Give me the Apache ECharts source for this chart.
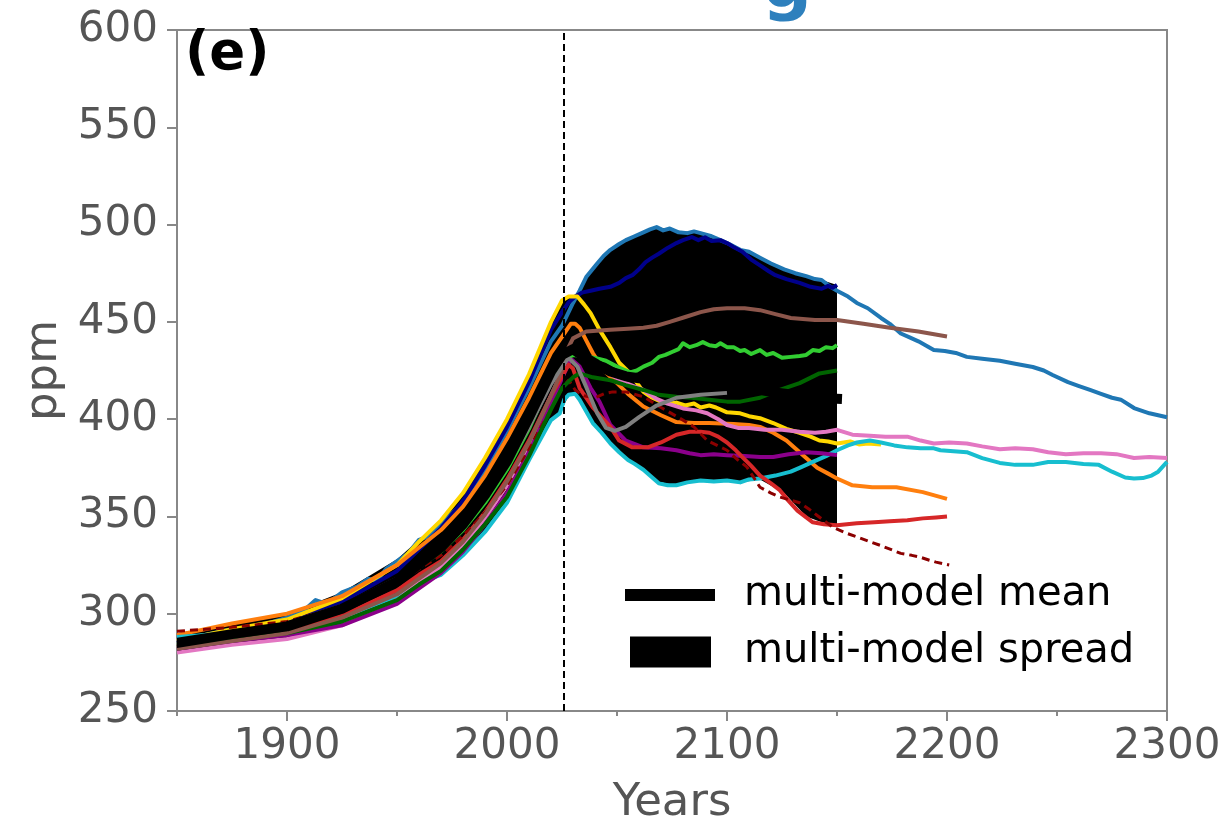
<!DOCTYPE html>
<html>
<head>
<meta charset="utf-8">
<script src="https://cdn.jsdelivr.net/npm/echarts@6/dist/echarts.min.js"></script>
<style>
html,body{margin:0;padding:0;background:#fff;}
#chart{width:1229px;height:823px;}
</style>
</head>
<body>
<div id="chart"></div>
<script>
// ---- tick labels ----
const xLabelYears = [1900, 2000, 2100, 2200, 2300];
const xMinorYears = [1850, 1950, 2050, 2150, 2250];
const refYear = 2026;

// ---- multi-model spread (envelope) ----
const spreadYears = [1850,1875,1900,1925,1950,1960,1970,1980,1990,2000,2010,2020,2025,2028,2031,2033,2036,2039,2042,2047,2054,2062,2068,2077,2088,2097,2106,2115,2126,2136,2143,2150];
const spreadHigh  = [290,295,300,311,328,338,348,362,380,400,423,450,461,463,463,466,473,478,482,487,492,496,498.7,497,495.6,492,487,483,477,473.5,471.5,469];
const spreadLow   = [280,284,287,294,305,313,320,330,342,357,379,399,405,412,413,410,404,398,394,387.7,380,374,368,366,368.5,368.5,367.5,369,362,350,347,346];

// ---- multi-model mean ----
const meanYears  = [1850,1875,1900,1925,1950,1960,1970,1980,1990,2000,2010,2020,2025,2030,2035,2041,2047,2054,2060,2070,2080,2090,2100,2110,2120,2130,2140,2150];
const meanValues = [285,289.5,293.5,302.5,316.5,325.5,334,346,361,378.5,401,424.5,433,436,432,428,424.5,422,421,420.5,420,419,418,416,414,412.5,411,410.5];

// ---- individual models: [year, ppm] ----
const blueRun = [[1850,287],[1862,289],[1875,292],[1888,294],[1900,298],[1907,301],[1913,307],[1918,305],[1925,311],[1932,314],[1937,318],[1941,317],[1945,323],[1950,327],[1955,331],[1960,338],[1965,340],[1970,346],[1980,357],[1990,374],[2000,394],[2010,416],[2020,440],[2025,448],[2028,455],[2030,459.7],[2033,466],[2036,473],[2041,480],[2044,484],[2047,487],[2051,490],[2054,492],[2058,494],[2062,496],[2065,497.5],[2068,498.7],[2071,497],[2074,498],[2078,496],[2082,495.6],[2085,496.5],[2088,495.6],[2093,494],[2097,492],[2101,490],[2106,487],[2110,486],[2115,483],[2120,480],[2126,477],[2131,475],[2136,473.5],[2140,472],[2143,471.5],[2147,468],[2150,466],[2155,463],[2159,459.7],[2164,457],[2170,452],[2174,449],[2179,444],[2183,442],[2187,440],[2191,437.5],[2194,435.5],[2199,435],[2204,434],[2209,432],[2216,431],[2224,430],[2231,428.5],[2239,426.8],[2244,425],[2248,422.7],[2255,419],[2260,417],[2265,415],[2270,413],[2275,411],[2279,410],[2285,405.7],[2292,403],[2296,402],[2300,401]];
const navyRun = [[1850,285],[1875,290],[1900,296],[1925,306],[1950,322],[1960,333],[1970,344],[1980,358],[1990,376],[2000,396],[2010,419],[2020,446],[2025,455],[2028,460],[2031,463],[2034,465],[2038,466],[2042,467],[2047,468],[2051,470],[2054,472.5],[2057,474],[2060,477],[2063,480.7],[2066,483],[2069,485],[2073,488],[2077,490.5],[2080,492],[2084,493.6],[2087,492],[2090,493.5],[2093,491.5],[2097,492],[2100,490.5],[2103,488.5],[2107,486],[2111,482],[2115,479],[2119,476],[2122,474],[2127,472],[2133,470],[2138,468],[2143,467],[2146,468.5],[2148,467.5],[2150,469]];
const goldRun = [[1850,286],[1875,292],[1900,297],[1925,308],[1950,325],[1960,337],[1970,348],[1980,362],[1990,380],[2000,400],[2010,423],[2020,450],[2025,461],[2028,463],[2032,463],[2035,459],[2038,454.5],[2042,446],[2047,437],[2051,429],[2056,423.5],[2062,414],[2066,411],[2070,409],[2074,408],[2077,408.5],[2081,407],[2085,408],[2088,406],[2092,407],[2095,406],[2100,403.5],[2106,403],[2110,401.5],[2115,400.5],[2121,398],[2127,395],[2133,393],[2138,391],[2142,389],[2146,388.5],[2150,387.5],[2156,388.5],[2160,387],[2164,387.5],[2170,387]];
const orangeRun = [[1850,289],[1875,295],[1900,300],[1925,309],[1950,325],[1960,334],[1970,343],[1980,355],[1990,371],[2000,390],[2010,411],[2020,434],[2026,444],[2029,449],[2031,449],[2033,447],[2036,440.5],[2039,434],[2044,425],[2050,418.5],[2055,413],[2062,406.5],[2070,402],[2077,398.5],[2085,398],[2092,398],[2103,397.5],[2110,397],[2115,396],[2121,393],[2127,389],[2132,384],[2137,379],[2141,375],[2146,372],[2150,369.5],[2157,366],[2166,365],[2177,365],[2189,362.5],[2200,359]];
const brownRun = [[1850,282],[1875,286],[1900,290],[1925,298],[1950,310],[1960,318],[1970,326],[1980,337],[1990,351],[2000,368],[2010,388],[2020,412],[2025,425],[2028,437],[2030,441.5],[2036,445],[2047,446],[2055,446.5],[2062,447],[2068,448],[2074,450],[2081,452.5],[2088,455],[2094,456.5],[2100,457],[2108,457],[2115,456],[2122,454],[2129,452],[2140,451],[2150,451],[2162,449],[2174,447],[2187,445],[2200,442.5]];
const limeRun = [[1850,284],[1875,288],[1900,293],[1925,302],[1950,316],[1960,324],[1970,332],[1980,343],[1990,357],[2000,374],[2010,395],[2020,420],[2025,430],[2030,433],[2035,432.5],[2040,431.5],[2045,430],[2050,427],[2053,425.5],[2056,424],[2059,425],[2062,427],[2066,429],[2069,432],[2072,433],[2075,434.5],[2078,436],[2080,439],[2083,437],[2086,438],[2089,439.6],[2092,438],[2095,437.5],[2097,439],[2100,437],[2103,437],[2106,435],[2108,435.5],[2111,433.5],[2115,435.5],[2118,433],[2121,434],[2125,431.5],[2129,432],[2133,432.5],[2136,433],[2139,435.5],[2142,435],[2145,437],[2148,436.5],[2150,438]];
const dgreenRun = [[1850,283],[1875,287],[1900,290],[1925,296],[1950,307],[1960,315],[1970,322],[1980,333],[1990,346],[2000,360],[2010,381],[2020,405],[2025,416],[2030,421.5],[2033,423.5],[2039,421.5],[2047,420],[2054,417.5],[2062,415],[2069,412.5],[2077,411.5],[2084,411],[2092,410],[2100,409],[2106,409],[2115,411],[2124,415],[2133,418.5],[2142,423.5],[2150,425]];
const grayRun = [[1850,284],[1875,289],[1900,295],[1925,304],[1950,318],[1960,326],[1970,334],[1980,345],[1990,359],[2000,376],[2010,396],[2020,418],[2025,427],[2028,431.5],[2032,427],[2036,416.5],[2041,403],[2045,395.5],[2049,394],[2054,396],[2060,401],[2068,407],[2077,411],[2088,412.5],[2100,413.5]];
const pinkRun = [[1850,280],[1875,284],[1900,287],[1925,294],[1950,307],[1960,316],[1970,324],[1980,335],[1990,349],[2000,366],[2010,387],[2020,412],[2025,424],[2027,430],[2030,434],[2033,432],[2036,430],[2041,427],[2047,423],[2054,418.5],[2062,415],[2068,410.5],[2073,408],[2080,405.5],[2086,404.5],[2091,403],[2096,400],[2100,397],[2105,395.5],[2110,395.5],[2117,394.5],[2125,394.5],[2133,393.5],[2140,393],[2145,393.5],[2150,394.5],[2157,392],[2165,391.5],[2172,391],[2182,391],[2188,389],[2194,387.5],[2201,388],[2209,387.5],[2216,386],[2224,384.5],[2231,385],[2239,384.5],[2246,383],[2254,382],[2262,382.5],[2270,382.5],[2277,382],[2285,380],[2292,380.5],[2300,380]];
const purpleRun = [[1850,282],[1875,286],[1900,289],[1925,294],[1950,305],[1960,313],[1970,321],[1980,332],[1990,346],[2000,362],[2010,383],[2020,408],[2025,421],[2029,431],[2033,427],[2038,416],[2042,409],[2047,397],[2054,389],[2062,385.5],[2070,385],[2077,384],[2083,382.5],[2088,381.5],[2094,382],[2100,381.5],[2108,381],[2115,380.5],[2121,380.5],[2128,382],[2136,383],[2143,382.5],[2150,381.5]];
const redRun = [[1850,283],[1875,287],[1900,291],[1925,299],[1950,312],[1960,320],[1970,327],[1980,338],[1990,352],[2000,369],[2010,389],[2020,412],[2025,422],[2028,428],[2030,426],[2033,416],[2039,406],[2047,396],[2051,389],[2057,385.5],[2064,385.5],[2070,388],[2077,392],[2083,393.5],[2088,393.5],[2092,393],[2096,391],[2100,388],[2104,384],[2107,380.5],[2111,376],[2115,371],[2120,367],[2124,363.5],[2128,358],[2132,353],[2136,349.5],[2139,347],[2144,346],[2150,345.5],[2159,346.5],[2167,347],[2174,347.5],[2182,348],[2189,349],[2195,349.5],[2200,350]];
const darkredRun = [[1850,291],[1875,293],[1900,296],[1925,304],[1950,315],[1960,323],[1970,330],[1980,340],[1990,352],[2000,366],[2010,385],[2020,405],[2025,416],[2028,420],[2031,415],[2035,412],[2040,411],[2044,413],[2048,414],[2054,414],[2062,411.5],[2070,406],[2080,399.5],[2085,396],[2091,389],[2100,384],[2105,379],[2109,375.5],[2115,365],[2120,362],[2124,360],[2133,357],[2137,354],[2141,350.5],[2148,344.5],[2154,341.5],[2159,339.5],[2165,337],[2170,335],[2179,331],[2184,330],[2188,329],[2192,327.5],[2195,326.5],[2201,325]];
const cyanRun = [[1850,288],[1875,290],[1900,292],[1925,298],[1950,309],[1960,316],[1970,320],[1980,330],[1990,342],[2000,357],[2010,379],[2020,399.5],[2024,403],[2026,410],[2028,412.5],[2031,413],[2033,410],[2035,406],[2039,398],[2043,393],[2047,387.5],[2051,383],[2055,379],[2058,377],[2062,374],[2066,370],[2069,367],[2073,366],[2077,366],[2082,367.5],[2088,368.5],[2094,368],[2100,368.5],[2106,367.5],[2110,369],[2115,369.5],[2122,371],[2129,373],[2134,375.5],[2139,378],[2145,381],[2150,384],[2155,386.5],[2159,388],[2165,389],[2170,388],[2176,386.5],[2182,385.5],[2188,385],[2194,385],[2197,384],[2203,383.5],[2209,383],[2216,380],[2224,377.5],[2231,376.5],[2239,376.5],[2246,378],[2254,378],[2262,377],[2269,376.5],[2275,373],[2281,370],[2285,369.5],[2289,369.7],[2293,371],[2296,373],[2300,378]];

const FONT = 'DejaVu Sans';
const models = [
  {name:'model blue',   data:blueRun,    color:'#1f77b4'},
  {name:'model navy',   data:navyRun,    color:'#00008b'},
  {name:'model gold',   data:goldRun,    color:'#ffd700'},
  {name:'model orange', data:orangeRun,  color:'#ff7f0e'},
  {name:'model cyan',   data:cyanRun,    color:'#17becf'},
  {name:'model pink',   data:pinkRun,    color:'#e377c2'},
  {name:'model purple', data:purpleRun,  color:'#8b008b'},
  {name:'model red',    data:redRun,     color:'#d62728'},
  {name:'model darkred',data:darkredRun, color:'#8b0000', dashed:true},
  {name:'model dgreen', data:dgreenRun,  color:'#006400'},
  {name:'model lime',   data:limeRun,    color:'#32cd32'},
  {name:'model brown',  data:brownRun,   color:'#8c564b'},
  {name:'model gray',   data:grayRun,    color:'#7f7f7f'}
];

const chart = echarts.init(document.getElementById('chart'), null, {renderer:'canvas'});

const series = [];
series.push({
  type:'custom', name:'multi-model spread', z:1, clip:true,
  itemStyle:{color:'#000'},
  data: spreadYears.map((y,i)=>[y, spreadLow[i], spreadHigh[i]]),
  encode:{x:0, y:[1,2]},
  renderItem: function(params, api){
    if (params.dataIndex !== 0) return null;
    const pts = [];
    for (let i=0;i<spreadYears.length;i++) pts.push(api.coord([spreadYears[i], spreadHigh[i]]));
    for (let i=spreadYears.length-1;i>=0;i--) pts.push(api.coord([spreadYears[i], spreadLow[i]]));
    return {type:'polygon', shape:{points:pts}, style:{fill:'#000', stroke:null}};
  },
  markLine:{
    silent:true, symbol:['none','none'], label:{show:false},
    lineStyle:{color:'#000', width:2, type:[7,4]},
    data:[{xAxis:refYear}]
  }
});
models.forEach((m,i)=>{
  series.push({
    type:'line', name:m.name, data:m.data, showSymbol:false, smooth:false,
    z:2+i*0.01,
    lineStyle:{color:m.color, width:m.dashed?3:4, type:m.dashed?[8,5]:'solid', join:'round'},
    itemStyle:{color:m.color},
    emphasis:{disabled:true}
  });
});
series.push({
  type:'custom', name:'multi-model mean', z:5, clip:true,
  itemStyle:{color:'#000'},
  data: meanYears.map((y,i)=>[y, meanValues[i]]),
  renderItem: function(params, api){
    if (params.dataIndex !== 0) return null;
    const pts = meanYears.map((y,i)=>api.coord([y, meanValues[i]]));
    return {type:'polyline', shape:{points:pts}, style:{stroke:'#000', fill:null, lineWidth:10, lineCap:'square', lineJoin:'round'}};
  }
});

const option = {
  animation:false,
  backgroundColor:'#fff',
  textStyle:{fontFamily:FONT},
  grid:{left:177, right:62, top:30, bottom:112, containLabel:false, outerBoundsMode:'none', show:true, borderColor:'#888', borderWidth:2, backgroundColor:'transparent'},
  title:{text:'(e)', left:185, top:29, padding:0, textStyle:{fontFamily:FONT, fontSize:53, fontWeight:'bold', color:'#000'}},
  legend:[
    {data:[{name:'multi-model mean', icon:'rect'}], left:625, top:575, padding:0, itemWidth:90, itemHeight:12, selectedMode:false,
     textStyle:{fontFamily:FONT, fontSize:40, color:'#000', padding:[0,0,0,24]}},
    {data:[{name:'multi-model spread', icon:'rect'}], left:630, top:632, padding:0, itemWidth:81, itemHeight:31, selectedMode:false,
     textStyle:{fontFamily:FONT, fontSize:40, color:'#000', padding:[0,0,0,28]}}
  ],
  xAxis:[
    {type:'value', min:1850, max:2300, position:'bottom',
     name:'Years', nameLocation:'middle', nameGap:70,
     nameTextStyle:{fontFamily:FONT, fontSize:45, color:'#555'},
     axisLine:{show:true, lineStyle:{color:'#888', width:2}},
     axisTick:{show:true, length:10, lineStyle:{color:'#888', width:2}, customValues:xLabelYears},
     axisLabel:{show:true, customValues:xLabelYears, fontFamily:FONT, fontSize:42, color:'#555', margin:15,
       formatter:function(v){return String(v);}},
     splitLine:{show:false}},
    {type:'value', min:1850, max:2300, position:'bottom',
     axisLine:{show:false},
     axisTick:{show:true, length:5, lineStyle:{color:'#888', width:2}, customValues:xMinorYears},
     axisLabel:{show:false},
     splitLine:{show:false}}
  ],
  yAxis:{type:'value', min:250, max:600, interval:50,
    name:'ppm', nameLocation:'middle', nameGap:110,
    nameTextStyle:{fontFamily:FONT, fontSize:45, color:'#555'},
    axisLine:{show:true, lineStyle:{color:'#888', width:2}},
    axisTick:{show:true, length:10, lineStyle:{color:'#888', width:2}},
    axisLabel:{fontFamily:FONT, fontSize:42, color:'#555', margin:19},
    splitLine:{show:false}},
  graphic:[
    {type:'text', left:762, top:-46, z:10, style:{text:'g', fontFamily:FONT, fontSize:70, fontWeight:'bold', fill:'#2e80bd'}}
  ],
  series: series
};
chart.setOption(option);
</script>
</body>
</html>
